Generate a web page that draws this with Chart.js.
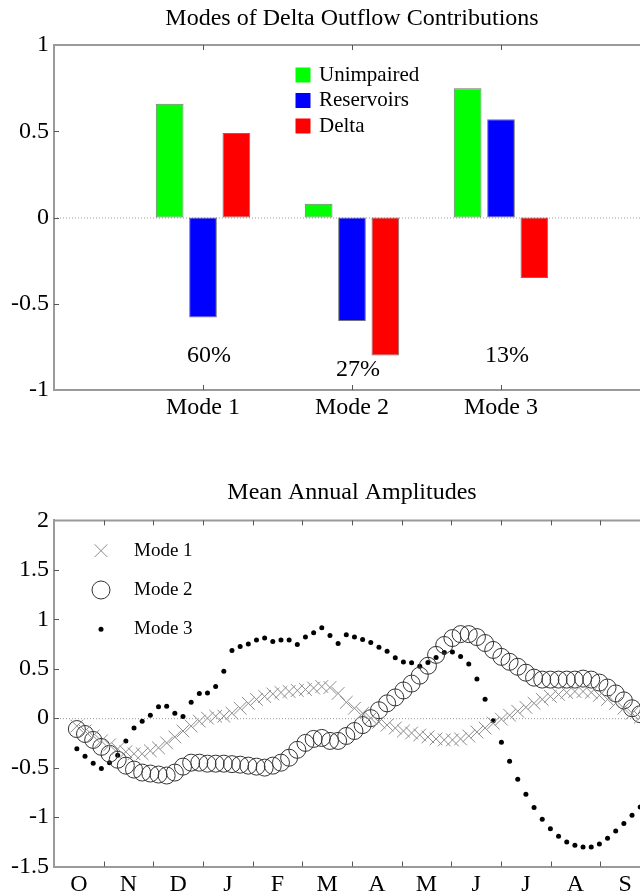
<!DOCTYPE html>
<html>
<head>
<meta charset="utf-8">
<title>Delta Outflow Modes</title>
<script src="https://cdn.jsdelivr.net/npm/chart.js@4.4.1/dist/chart.umd.min.js"></script>
<style>
  html, body { margin: 0; padding: 0; background: #fff; }
  body { width: 640px; height: 894px; overflow: hidden; }
  .panel { width: 660px; height: 447px; }
  canvas { display: block; }
</style>
</head>
<body>
<div class="panel"><canvas id="modesChart" width="660" height="447"></canvas></div>
<div class="panel"><canvas id="ampChart" width="660" height="447"></canvas></div>
<script>
// --- mode loadings ---
const modes = ['Mode 1', 'Mode 2', 'Mode 3'];
const unimpaired = [0.66, 0.08, 0.75];
const reservoirs = [-0.58, -0.60, 0.57];
const delta = [0.49, -0.80, -0.35];
const variance = ['60%', '27%', '13%'];
const barTicks = [-1, -0.5, 0, 0.5, 1];

// --- mean annual amplitudes, one value per pentad from mid-October ---
const months = ['O', 'N', 'D', 'J', 'F', 'M', 'A', 'M', 'J', 'J', 'A', 'S'];
const ampTicks = [-1.5, -1, -0.5, 0, 0.5, 1, 1.5, 2];
const firstDay = 14;
const pentad = 5;
const mode1 = [
  -0.08, -0.13, -0.18, -0.23, -0.27, -0.31, -0.34, -0.36, -0.36, -0.33,
  -0.30, -0.25, -0.19, -0.13, -0.08, -0.03, 0.00, 0.02, 0.02, 0.05,
  0.10, 0.15, 0.19, 0.22, 0.245, 0.26, 0.27, 0.28, 0.29, 0.305,
  0.32, 0.31, 0.25, 0.16, 0.10, 0.05, 0.00, -0.04, -0.07, -0.10,
  -0.13, -0.15, -0.17, -0.19, -0.21, -0.22, -0.22, -0.21, -0.18, -0.14,
  -0.10, -0.05, -0.01, 0.03, 0.07, 0.11, 0.15, 0.19, 0.22, 0.24,
  0.26, 0.27, 0.27, 0.26, 0.23, 0.19, 0.15, 0.10, 0.05, 0.01
];
const mode2 = [
  -0.11, -0.16, -0.22, -0.29, -0.36, -0.42, -0.48, -0.52, -0.55, -0.56,
  -0.57, -0.58, -0.55, -0.49, -0.45, -0.45, -0.46, -0.46, -0.46, -0.465,
  -0.47, -0.48, -0.49, -0.50, -0.48, -0.45, -0.40, -0.32, -0.25, -0.21,
  -0.20, -0.23, -0.23, -0.18, -0.13, -0.07, 0.00, 0.08, 0.15, 0.21,
  0.28, 0.35, 0.43, 0.53, 0.64, 0.74, 0.81, 0.85, 0.85, 0.82,
  0.76, 0.69, 0.62, 0.57, 0.52, 0.46, 0.41, 0.39, 0.39, 0.39,
  0.39, 0.39, 0.40, 0.39, 0.36, 0.31, 0.25, 0.18, 0.10, 0.04
];
const mode3 = [
  -0.31, -0.385, -0.455, -0.51, -0.45, -0.375, -0.23, -0.10, -0.03, 0.03,
  0.115, 0.12, 0.05, 0.017, 0.16, 0.25, 0.255, 0.32, 0.475, 0.685,
  0.725, 0.75, 0.79, 0.81, 0.775, 0.79, 0.79, 0.745, 0.82, 0.865,
  0.915, 0.835, 0.755, 0.843, 0.82, 0.796, 0.766, 0.716, 0.678, 0.61,
  0.567, 0.56, 0.526, 0.564, 0.614, 0.665, 0.668, 0.624, 0.547, 0.395,
  0.192, -0.027, -0.243, -0.435, -0.617, -0.769, -0.904, -1.022, -1.117, -1.194,
  -1.252, -1.285, -1.302, -1.302, -1.272, -1.215, -1.14, -1.066, -0.982, -0.898
];

const serif = "'Liberation Serif', 'Times New Roman', serif";
const axisGray = '#9a9a9a';
const monthLen = 365 / 12;

function toPoints(values) {
  return values.map((v, i) => ({ x: firstDay + i * pentad, y: v }));
}

// box around the plot area, inward tick marks and a dotted zero line
const framePlugin = {
  id: 'frame',
  beforeDatasetsDraw(chart) {
    const { ctx, chartArea: a, scales: { y } } = chart;
    const y0 = y.getPixelForValue(0);
    ctx.save();
    ctx.strokeStyle = '#9a9a9a';
    ctx.lineWidth = 1;
    ctx.setLineDash([1, 2]);
    ctx.beginPath();
    ctx.moveTo(a.left, y0 + 0.5);
    ctx.lineTo(a.right, y0 + 0.5);
    ctx.stroke();
    ctx.restore();
  },
  afterDatasetsDraw(chart, args, opts) {
    const { ctx, chartArea: a, scales: { x, y } } = chart;
    const len = 5;
    ctx.save();
    ctx.strokeStyle = axisGray;
    ctx.lineWidth = 2;
    ctx.beginPath();
    ctx.moveTo(a.left, a.top);
    ctx.lineTo(a.right, a.top);
    ctx.lineTo(a.right, a.bottom);
    ctx.stroke();

    ctx.strokeStyle = '#555';
    ctx.lineWidth = 1;
    ctx.beginPath();
    (opts.xMarks || []).forEach(v => {
      const px = Math.round(x.getPixelForValue(v)) + 0.5;
      ctx.moveTo(px, a.bottom);
      ctx.lineTo(px, a.bottom - len);
      ctx.moveTo(px, a.top);
      ctx.lineTo(px, a.top + len);
    });
    y.ticks.forEach(t => {
      if (t.value === y.min || t.value === y.max) return;
      const py = Math.round(y.getPixelForValue(t.value)) + 0.5;
      ctx.moveTo(a.left, py);
      ctx.lineTo(a.left + len, py);
      ctx.moveTo(a.right, py);
      ctx.lineTo(a.right - len, py);
    });
    ctx.stroke();
    ctx.restore();
  }
};

// legend drawn inside the plot area
const innerLegend = {
  id: 'innerLegend',
  afterDatasetsDraw(chart, args, opts) {
    const { ctx, chartArea: a } = chart;
    ctx.save();
    ctx.font = opts.fontSize + 'px ' + serif;
    ctx.textBaseline = 'middle';
    ctx.textAlign = 'left';
    chart.data.datasets.forEach((ds, i) => {
      const cx = a.left + opts.x;
      const cy = a.top + opts.y + i * opts.gap;
      if (opts.boxes) {
        ctx.fillStyle = ds.backgroundColor;
        ctx.fillRect(cx - 7.5, cy - 7.5, 15, 15);
      } else {
        ctx.strokeStyle = ds.borderColor;
        ctx.fillStyle = ds.backgroundColor;
        ctx.lineWidth = ds.borderWidth;
        Chart.helpers.drawPoint(ctx, {
          pointStyle: ds.pointStyle,
          radius: ds.legendRadius || ds.pointRadius,
          rotation: 0,
          borderWidth: ds.borderWidth
        }, cx, cy);
      }
      ctx.fillStyle = '#000';
      ctx.fillText(ds.label, cx + opts.textGap, cy);
    });
    ctx.restore();
  }
};

// explained variance under each mode
const varianceLabels = {
  id: 'varianceLabels',
  afterDatasetsDraw(chart, args, opts) {
    if (!opts.labels) return;
    const { ctx, scales: { x, y } } = chart;
    ctx.save();
    ctx.font = '24px ' + serif;
    ctx.fillStyle = '#000';
    ctx.textAlign = 'center';
    ctx.textBaseline = 'middle';
    opts.labels.forEach((txt, i) => {
      ctx.fillText(txt, x.getPixelForValue(i + 1) + 6, y.getPixelForValue(opts.levels[i]));
    });
    ctx.restore();
  }
};

Chart.register(framePlugin, innerLegend, varianceLabels);

function yAxis(ticks, min, max) {
  return {
    min: min,
    max: max,
    afterBuildTicks: s => { s.ticks = ticks.map(v => ({ value: v })); },
    afterFit: s => { s.width = 54; },
    grid: { display: false, drawTicks: false },
    border: { color: axisGray, width: 2 },
    ticks: {
      color: '#000',
      padding: 5,
      font: { family: serif, size: 24 },
      callback: v => String(v)
    }
  };
}

// top panel: loadings per mode
new Chart(document.getElementById('modesChart'), {
  type: 'bar',
  data: {
    labels: ['', ...modes, ''],
    datasets: [
      { label: 'Unimpaired', data: [null, ...unimpaired, null], backgroundColor: '#00ff00' },
      { label: 'Reservoirs', data: [null, ...reservoirs, null], backgroundColor: '#0000ff' },
      { label: 'Delta', data: [null, ...delta, null], backgroundColor: '#ff0000' }
    ]
  },
  options: {
    responsive: false,
    animation: false,
    layout: { padding: { left: 0, right: 10, top: 0, bottom: 0 } },
    datasets: {
      bar: {
        categoryPercentage: 0.672,
        barPercentage: 0.83,
        borderColor: 'rgba(0,0,0,0.55)',
        borderWidth: 1,
        borderSkipped: false
      }
    },
    scales: {
      x: {
        offset: false,
        afterFit: s => { s.height = 57; },
        grid: { display: false, drawTicks: false },
        border: { color: axisGray, width: 2 },
        ticks: { color: '#000', padding: 3, autoSkip: false, maxRotation: 0, font: { family: serif, size: 24 } }
      },
      y: yAxis(barTicks, -1, 1)
    },
    plugins: {
      legend: { display: false },
      tooltip: { enabled: false },
      title: {
        display: true,
        text: 'Modes of Delta Outflow Contributions',
        fullSize: false,
        color: '#000',
        font: { family: serif, size: 24, weight: 'normal' },
        padding: { top: 4, bottom: 12.2 }
      },
      frame: { xMarks: [1, 2, 3] },
      innerLegend: { boxes: true, x: 249, y: 30, gap: 25.5, textGap: 16, fontSize: 21 },
      varianceLabels: { labels: variance, levels: [-0.80, -0.885, -0.80] }
    }
  }
});

// bottom panel: seasonal amplitude of each mode
new Chart(document.getElementById('ampChart'), {
  type: 'scatter',
  data: {
    datasets: [
      {
        label: 'Mode 1', data: toPoints(mode1), pointStyle: 'crossRot',
        pointRadius: 9, legendRadius: 9, borderColor: '#8c8c8c', backgroundColor: 'transparent', borderWidth: 1
      },
      {
        label: 'Mode 2', data: toPoints(mode2), pointStyle: 'circle',
        pointRadius: 8.5, legendRadius: 9, borderColor: '#333', backgroundColor: 'transparent', borderWidth: 1
      },
      {
        label: 'Mode 3', data: toPoints(mode3), pointStyle: 'circle',
        pointRadius: 2.5, legendRadius: 2.5, borderColor: '#000', backgroundColor: '#000', borderWidth: 0
      }
    ]
  },
  options: {
    responsive: false,
    animation: false,
    layout: { padding: { left: 0, right: 10, top: 0, bottom: 0 } },
    elements: { point: { hoverRadius: 0 } },
    scales: {
      x: {
        type: 'linear',
        min: 0,
        max: 365,
        afterBuildTicks: s => { s.ticks = months.map((m, i) => ({ value: (i + 0.5) * monthLen })); },
        afterFit: s => { s.height = 27.5; },
        grid: { display: false, drawTicks: false },
        border: { color: axisGray, width: 2 },
        ticks: {
          color: '#000',
          padding: 4,
          autoSkip: false,
          maxRotation: 0,
          font: { family: serif, size: 24 },
          callback: (v, i) => months[i]
        }
      },
      y: yAxis(ampTicks, -1.5, 2)
    },
    plugins: {
      legend: { display: false },
      tooltip: { enabled: false },
      title: {
        display: true,
        text: 'Mean Annual Amplitudes',
        fullSize: false,
        color: '#000',
        font: { family: serif, size: 24, weight: 'normal' },
        padding: { top: 31.6, bottom: 13 }
      },
      frame: { xMarks: months.slice(1).map((m, i) => (i + 1) * monthLen) },
      innerLegend: { boxes: false, x: 47, y: 30.3, gap: 39.3, textGap: 33, fontSize: 19 }
    }
  }
});
</script>
</body>
</html>
